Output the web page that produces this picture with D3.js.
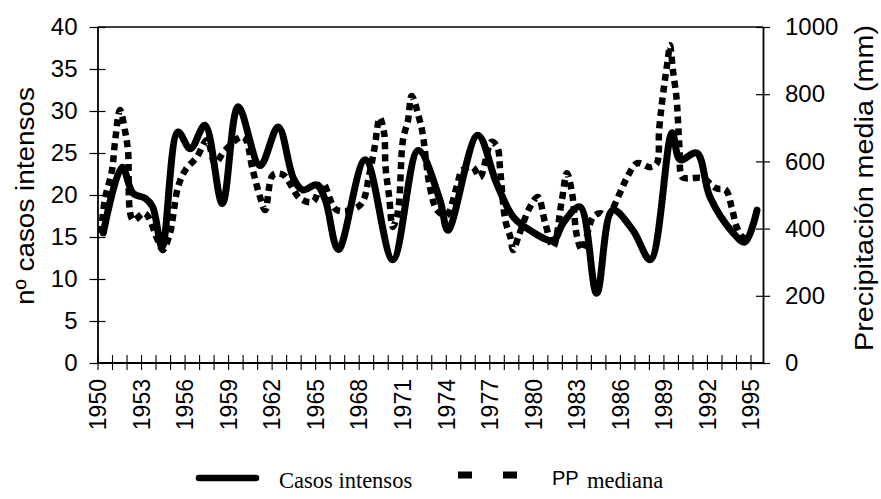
<!DOCTYPE html>
<html>
<head>
<meta charset="utf-8">
<script src="https://cdn.jsdelivr.net/npm/d3@7"></script>
<style>
  html, body { margin: 0; padding: 0; background: #fff; }
  svg { display: block; }
</style>
</head>
<body>
<svg id="chart" width="881" height="499"></svg>
<script>
// ---- data ----
const casosYears  = [1950.4,1951.7,1952.45,1953.3,1953.8,1954.45,1955.55,1956.4,1957.4,1958.6,1959.7,1961.2,1962.45,1963.5,1964.15,1965.1,1965.7,1966.6,1968.45,1970.35,1972.1,1973.6,1974.15,1976.2,1977.5,1978.65,1979.8,1981.4,1982.1,1983.25,1984.4,1985.5,1986.9,1988.1,1989.6,1990.15,1991.3,1992.2,1993.8,1994.6,1995.45];
const casosValues = [15.5,23.3,20.2,19.6,18.6,13.8,27.5,25.5,28.3,19,30.5,23.5,28.1,22,20.6,21.2,19.4,13.5,24.2,12.3,25.3,19.4,15.8,27.1,21.4,17.4,15.8,14.6,16.7,18.6,8.3,18.2,15.8,12.3,27.4,24.2,25,19.8,15.5,14.4,18.2];

const ppYears  = [1950.25,1950.5,1951.0,1951.2,1951.55,1951.9,1952.1,1952.45,1953.25,1954.15,1954.5,1955.0,1955.2,1955.55,1956.05,1956.85,1957.55,1958.1,1958.8,1960.05,1960.7,1961.2,1961.55,1962.1,1962.8,1963.95,1964.85,1965.5,1966.5,1968.1,1968.75,1969.1,1969.45,1969.75,1969.85,1970.1,1970.35,1970.7,1971.05,1971.4,1971.65,1972.2,1972.4,1972.9,1973.4,1974.05,1974.75,1975.15,1975.85,1976.35,1977.15,1977.55,1977.75,1978.1,1978.45,1978.65,1979.0,1979.8,1980.35,1980.85,1981.4,1982.0,1982.35,1982.7,1983.05,1983.4,1984.15,1984.65,1985.1,1986.0,1986.5,1987.2,1988.1,1988.55,1988.7,1988.9,1989.1,1989.3,1989.45,1989.65,1989.9,1990.0,1990.1,1990.3,1990.8,1991.7,1992.65,1993.3,1993.7,1994.05,1994.45,1994.9];
const ppValues = [387,485,574,655,753,690,634,425,446,366,336,387,435,524,574,613,664,595,634,673,574,494,455,560,560,490,480,536,455,470,565,643,730,685,583,494,405,450,664,723,795,723,685,525,455,440,524,574,583,553,658,643,574,425,375,336,375,464,494,417,345,485,565,506,375,336,435,446,435,506,553,595,583,595,693,774,842,902,946,872,790,723,645,553,550,550,520,515,464,405,375,366];

const leftTicks  = [0,5,10,15,20,25,30,35,40];
const rightTicks = [0,200,400,600,800,1000];
const yearTicks  = d3.range(1950, 1996);
const labelYears = [1950,1953,1956,1959,1962,1965,1968,1971,1974,1977,1980,1983,1986,1989,1992,1995];

const leftTitle  = "nº casos intensos";
const rightTitle = "Precipitación media (mm)";
const legendCasos = "Casos intensos";
const legendPP1 = "PP";
const legendPP2 = "mediana";

// ---- layout ----
const svg = d3.select("#chart");
const plotTop = 27, plotBottom = 363, leftX = 97.5, rightX = 763;
const x  = d3.scaleLinear().domain([1950, 1995]).range([97.5, 750.5]);
const yL = d3.scaleLinear().domain([0, 40]).range([plotBottom, plotTop]);
const yR = d3.scaleLinear().domain([0, 1000]).range([plotBottom, plotTop]);

const sans = "'Liberation Sans', Arial, Helvetica, sans-serif";
const serif = "'Liberation Serif', 'Times New Roman', serif";

// frame top line
svg.append("line").attr("x1", leftX).attr("x2", rightX).attr("y1", plotTop).attr("y2", plotTop)
  .attr("stroke", "#000").attr("stroke-width", 1.5);

// left axis
const gL = svg.append("g").attr("transform", `translate(${leftX},0)`)
  .call(d3.axisLeft(yL).tickValues(leftTicks).tickSize(8).tickPadding(12).tickSizeOuter(0));
gL.selectAll(".tick line").attr("x1", -8).attr("x2", 8).attr("stroke-width", 1.2);
gL.select(".domain").attr("stroke-width", 1.8);
gL.selectAll("text").attr("font-family", sans).attr("font-size", 24).attr("fill", "#000");

// right axis
const gR = svg.append("g").attr("transform", `translate(${rightX},0)`)
  .call(d3.axisRight(yR).tickValues(rightTicks).tickSize(8).tickPadding(14).tickSizeOuter(0)
    .tickFormat(d3.format("d")));
gR.selectAll(".tick line").attr("x1", -7).attr("x2", 7).attr("stroke-width", 1.2);
gR.select(".domain").attr("stroke-width", 1.8);
gR.selectAll("text").attr("font-family", sans).attr("font-size", 24).attr("fill", "#000");

// bottom axis
const gB = svg.append("g").attr("transform", `translate(0,${plotBottom})`)
  .call(d3.axisBottom(x).tickValues(yearTicks).tickSize(7).tickSizeOuter(0)
    .tickFormat(d => labelYears.includes(d) ? String(d) : ""));
gB.select(".domain").attr("d", `M${leftX},0H${rightX}`).attr("stroke-width", 1.8);
gB.selectAll(".tick line").attr("y1", -8).attr("y2", 7).attr("stroke-width", 1.1);
gB.selectAll("text")
  .attr("font-family", sans).attr("font-size", 23).attr("fill", "#000")
  .attr("transform", "rotate(-90)")
  .attr("text-anchor", "end")
  .attr("x", -16).attr("y", 0).attr("dy", "0.36em");

// axis titles
svg.append("text").attr("transform", "translate(34,196) rotate(-90)")
  .attr("text-anchor", "middle").attr("font-family", sans).attr("font-size", 25)
  .attr("textLength", 218).attr("lengthAdjust", "spacingAndGlyphs")
  .text(leftTitle);
svg.append("text").attr("transform", "translate(873,188) rotate(-90)")
  .attr("text-anchor", "middle").attr("font-family", sans).attr("font-size", 25)
  .attr("textLength", 326).attr("lengthAdjust", "spacingAndGlyphs")
  .text(rightTitle);

// series
const casos = casosYears.map((yr, i) => [yr, casosValues[i]]);
const pp = ppYears.map((yr, i) => [yr, ppValues[i]]);

const lineL = d3.line().x(d => x(d[0])).y(d => yL(d[1])).curve(d3.curveCatmullRom.alpha(0.5));
const lineR = d3.line().x(d => x(d[0])).y(d => yR(d[1])).curve(d3.curveCatmullRom.alpha(0.5));

svg.append("path").datum(pp).attr("d", lineR)
  .attr("fill", "none").attr("stroke", "#000").attr("stroke-width", 6.5)
  .attr("stroke-dasharray", "7,5");

svg.append("path").datum(casos).attr("d", lineL)
  .attr("fill", "none").attr("stroke", "#000").attr("stroke-width", 7)
  .attr("stroke-linejoin", "round").attr("stroke-linecap", "round");

// legend
const ly = 478;
svg.append("line").attr("x1", 199).attr("x2", 256).attr("y1", ly).attr("y2", ly)
  .attr("stroke", "#000").attr("stroke-width", 6.5).attr("stroke-linecap", "round");
svg.append("text").attr("x", 279).attr("y", ly + 10).attr("font-family", serif).attr("font-size", 22.5)
  .text(legendCasos);
svg.append("line").attr("x1", 458).attr("x2", 518).attr("y1", ly - 3).attr("y2", ly - 3)
  .attr("stroke", "#000").attr("stroke-width", 7).attr("stroke-dasharray", "14,31");
svg.append("text").attr("x", 552).attr("y", ly + 7).attr("font-family", sans).attr("font-size", 20)
  .text(legendPP1);
svg.append("text").attr("x", 587).attr("y", ly + 10).attr("font-family", serif).attr("font-size", 22.5)
  .text(legendPP2);
</script>
</body>
</html>
